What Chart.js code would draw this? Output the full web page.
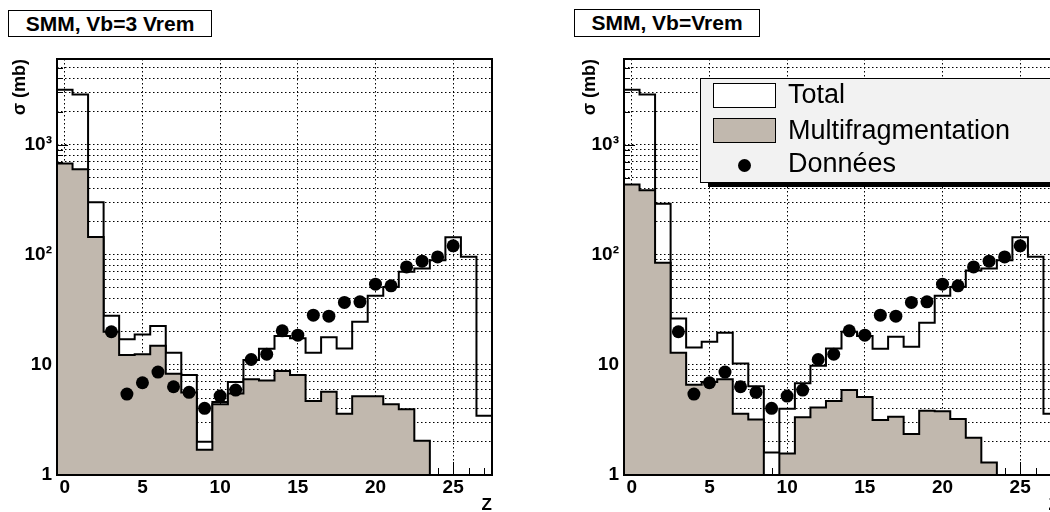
<!DOCTYPE html>
<html>
<head>
<meta charset="utf-8">
<script src="https://cdn.jsdelivr.net/npm/chart.js@4.4.1/dist/chart.umd.min.js"></script>
<style>
html, body { margin:0; padding:0; background:#fff; width:1050px; height:512px; overflow:hidden; position:relative; }
canvas { position:absolute; top:0; }
.tbox { position:absolute; box-sizing:border-box; border:1px solid #000; background:#fff; text-align:center;
        font:bold 21px "Liberation Sans", Arial, sans-serif; }
#legend { position:absolute; left:700px; top:78px; width:420px; height:105px; box-sizing:border-box;
          background:#f2f2f2; border:1px solid #000; box-shadow:8px 4px 0 #000;
          font:27px "Liberation Sans", Arial, sans-serif; }
#legend .sw { position:absolute; left:12px; width:63px; height:25px; box-sizing:border-box; border:1px solid #000; }
#legend .dot { position:absolute; left:37px; width:13px; height:13px; border-radius:50%; background:#000; }
#legend .txt { position:absolute; left:87px; line-height:27px; white-space:nowrap; }
</style>
</head>
<body>
<canvas id="left" width="525" height="512" style="left:0px"></canvas>
<canvas id="right" width="525" height="512" style="left:570px"></canvas>
<div class="tbox" style="left:8px;top:10px;width:204px;height:27px;line-height:25px">SMM, Vb=3 Vrem</div>
<div class="tbox" style="left:574px;top:9px;width:186px;height:28px;line-height:26px">SMM, Vb=Vrem</div>
<div id="legend"></div>
<script>
// bins in Z
const zBins = [0,1,2,3,4,5,6,7,8,9,10,11,12,13,14,15,16,17,18,19,20,21,22,23,24,25,26,27];

// SMM, Vb=3 Vrem
const totalLeft = [3150,2850,300,28,17.1,18.9,22.5,12.9,8.1,2.0,4.6,7.0,11.1,14,18.3,17.5,12.9,17.8,14.1,24.6,42.4,51,70,75,89,144,96,3.45];
const multiLeft = [674,598,145,20,12.3,12.5,14.9,8.3,5.6,1.7,4.4,5.5,7.4,7.2,8.8,8.1,4.7,5.7,3.6,5.2,5.2,4.4,3.95,2.05,0,0,0,0];

// SMM, Vb=Vrem
const totalRight = [3150,2850,290,26.4,14.4,16.2,19.6,10.3,6.4,1.6,4.0,6.8,9.8,14.1,20.0,18.3,14.0,18.0,14.6,24.1,42.4,51,72,75,89,144,96,3.6];
const multiRight = [434,386,84.5,12.9,6.6,7.0,7.4,3.6,3.2,0,1.57,3.34,4.1,4.7,5.9,5.1,3.16,3.38,2.36,3.83,3.8,3.22,2.18,1.3,0,0,0,0];

// measured cross sections (Données)
const dataZ = [3,4,5,6,7,8,9,10,11,12,13,14,15,16,17,18,19,20,21,22,23,24,25];
const dataSigma = [20.0,5.43,6.88,8.6,6.33,5.63,4.03,5.21,5.91,11.2,12.5,20.4,18.6,28.3,27.7,36.9,37.4,54.1,52.2,77.6,87.5,95.7,120.5];

// axes
const xTicks = [0,5,10,15,20,25];
const yTicks = [1,2,3,4,5,6,7,8,9,10,20,30,40,50,60,70,80,90,100,200,300,400,500,600,700,800,900,1000,2000,3000,4000,5000];
const yLabelValues = [1,10,100,1000];
const yLabelTexts = ['1','10','10²','10³'];
const legendLabels = ['Total','Multifragmentation','Données'];

const greyFill = '#c1b8ae';
const logFloor = 0.1; // empty bins sit below the axis minimum on the log scale
Chart.defaults.font.family = '"Liberation Sans", Arial, sans-serif';
Chart.defaults.color = '#000';

// histogram contents -> step outline points at bin edges
function histPoints(vals) {
  const pts = zBins.map((z, i) => ({x: z - 0.5, y: vals[i] > 0 ? vals[i] : logFloor}));
  const last = vals[vals.length - 1];
  pts.push({x: zBins[zBins.length - 1] + 0.5, y: last > 0 ? last : logFloor});
  return pts;
}

const innerTicks = {
  id: 'innerTicks',
  beforeDatasetsDraw(chart) {
    const {ctx, chartArea: a, scales: {x, y}} = chart;
    ctx.save();
    ctx.strokeStyle = '#000';
    ctx.lineWidth = 1;
    ctx.beginPath();
    zBins.forEach(z => {
      const px = Math.round(x.getPixelForValue(z)) + 0.5;
      const len = xTicks.includes(z) ? 13 : 7;
      ctx.moveTo(px, a.bottom); ctx.lineTo(px, a.bottom - len);
    });
    yTicks.forEach(v => {
      const py = Math.round(y.getPixelForValue(v)) + 0.5;
      const len = yLabelValues.includes(v) ? 11 : 6;
      ctx.moveTo(a.left, py); ctx.lineTo(a.left + len, py);
    });
    ctx.stroke();
    ctx.restore();
  },
  afterDatasetsDraw(chart) {
    const {ctx, chartArea: a} = chart;
    ctx.save();
    ctx.strokeStyle = '#000';
    ctx.lineWidth = 2;
    ctx.strokeRect(a.left, a.top, a.right - a.left, a.bottom - a.top);
    ctx.restore();
  }
};

function makeChart(id, total, multi, padRight, yWidth) {
  return new Chart(document.getElementById(id), {
    type: 'line',
    data: {
      datasets: [
        { label: legendLabels[2], data: dataZ.map((z, i) => ({x: z, y: dataSigma[i]})),
          showLine: false, pointRadius: 6.5, pointBackgroundColor: '#000', pointBorderWidth: 0, order: 0 },
        { label: legendLabels[1], data: histPoints(multi), stepped: 'before', fill: 'start',
          backgroundColor: greyFill, borderColor: '#000', borderWidth: 2, pointRadius: 0, order: 1 },
        { label: legendLabels[0], data: histPoints(total), stepped: 'before', fill: false,
          borderColor: '#000', borderWidth: 2, pointRadius: 0, order: 2 }
      ]
    },
    options: {
      responsive: false,
      animation: false,
      layout: { padding: { top: 59, right: padRight, left: 0, bottom: 0 } },
      plugins: { legend: { display: false }, tooltip: { enabled: false } },
      scales: {
        x: {
          type: 'linear', min: -0.5, max: 27.5,
          afterBuildTicks: s => { s.ticks = xTicks.map(v => ({value: v})); },
          afterFit: s => { s.height = 37; },
          ticks: { autoSkip: false, maxRotation: 0, padding: 1, font: { size: 19, weight: 'bold' } },
          grid: { color: '#000', lineWidth: 1, drawTicks: false },
          border: { display: false, dash: [1.5, 2.5] },
          title: { display: true, text: 'Z', align: 'end', font: { size: 17, weight: 'bold', lineHeight: 0.8 },
                   padding: { top: 0, bottom: 0 } }
        },
        y: {
          type: 'logarithmic', min: 1, max: 6000,
          afterBuildTicks: s => { s.ticks = yTicks.map(v => ({value: v})); },
          afterFit: s => { s.width = yWidth; },
          ticks: { autoSkip: false, padding: 5, font: { size: 19, weight: 'bold' },
                   callback: v => { const i = yLabelValues.indexOf(v); return i < 0 ? '' : yLabelTexts[i]; } },
          grid: { color: '#000', lineWidth: 1, drawTicks: false },
          border: { display: false, dash: [1.5, 2.5] },
          title: { display: true, text: 'σ (mb)', align: 'end', font: { size: 18, weight: 'bold' },
                   padding: { top: 9, bottom: 0 } }
        }
      }
    },
    plugins: [innerTicks]
  });
}

makeChart('left', totalLeft, multiLeft, 33, 57);
const rightChart = makeChart('right', totalRight, multiRight, 36, 54);

// ROOT style legend box in the right panel, built from the dataset labels
const leg = document.getElementById('legend');
const ds = rightChart.data.datasets;
const rows = [
  { label: ds[2].label, html: '<div class="sw" style="top:4px;background:#fff"></div>', top: 2 },
  { label: ds[1].label, html: '<div class="sw" style="top:39px;background:' + greyFill + '"></div>', top: 38 },
  { label: ds[0].label, html: '<div class="dot" style="top:80px"></div>', top: 71 }
];
rows.forEach(r => {
  leg.insertAdjacentHTML('beforeend', r.html);
  const t = document.createElement('div');
  t.className = 'txt';
  t.style.top = r.top + 'px';
  t.textContent = r.label;
  leg.appendChild(t);
});
</script>
</body>
</html>
